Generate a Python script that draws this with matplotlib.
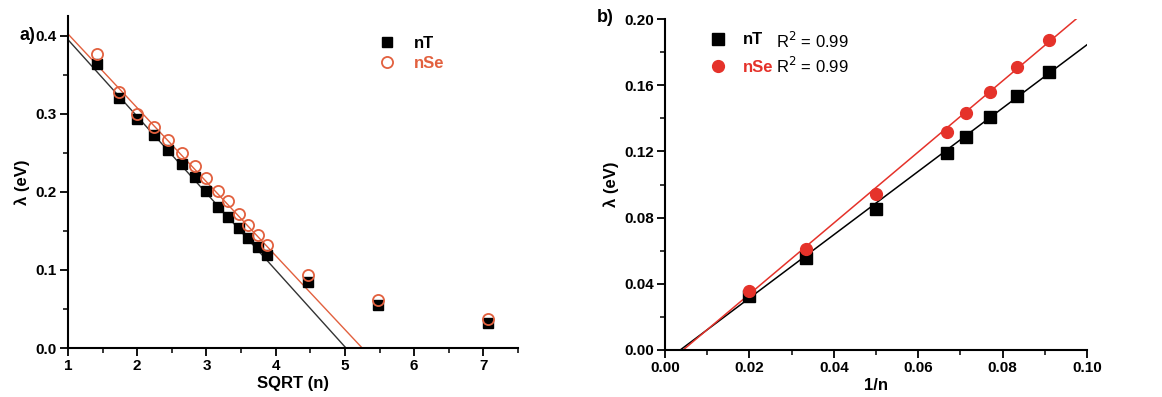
import numpy as np
import matplotlib
matplotlib.use('Agg')
import matplotlib.pyplot as plt
from matplotlib.ticker import MultipleLocator, FormatStrFormatter
from matplotlib.lines import Line2D

plt.rcParams['font.family'] = ['Liberation Sans', 'DejaVu Sans']

# panel a: lambda vs sqrt(n)
sqrt_n = [1.414, 1.732, 2.0, 2.236, 2.449, 2.646, 2.828, 3.0, 3.162, 3.317,
          3.464, 3.606, 3.742, 3.873, 4.472, 5.477, 7.071]
lam_nT_a = [0.364, 0.320, 0.293, 0.273, 0.253, 0.236, 0.219, 0.201, 0.181, 0.168,
            0.153, 0.141, 0.129, 0.119, 0.085, 0.055, 0.032]
lam_nSe_a = [0.376, 0.328, 0.299, 0.283, 0.266, 0.250, 0.233, 0.217, 0.201, 0.188,
             0.171, 0.158, 0.145, 0.132, 0.094, 0.062, 0.037]
# linear fits (slope, intercept)
fit_nT_a = (-0.0983, 0.493)
fit_nSe_a = (-0.0946, 0.4966)

# panel b: lambda vs 1/n
inv_n = [0.02, 0.0333, 0.05, 0.0667, 0.0714, 0.0769, 0.0833, 0.0909]
lam_nT_b = [0.0327, 0.0558, 0.0855, 0.119, 0.129, 0.1407, 0.1532, 0.168]
lam_nSe_b = [0.0359, 0.0613, 0.0942, 0.132, 0.1435, 0.156, 0.171, 0.1875]
fit_nT_b = (1.914, -0.0069)
fit_nSe_b = (2.148, -0.0092)
r2_labels = ['R$^2$ = 0.99', 'R$^2$ = 0.99']

RED = '#e5322a'
ORANGE = '#e2603e'

fig = plt.figure(figsize=(11.62, 3.97), dpi=100)
ax1 = fig.add_axes([0.0585, 0.1234, 0.3873, 0.8363])
ax2 = fig.add_axes([0.5723, 0.1184, 0.3632, 0.8336])


def style_axes(ax):
    for s in ['top', 'right']:
        ax.spines[s].set_visible(False)
    for s in ['left', 'bottom']:
        ax.spines[s].set_linewidth(1.5)
    ax.tick_params(which='major', direction='out', length=6, width=1.3,
                   labelsize=11, pad=2)
    ax.tick_params(which='minor', direction='out', length=3.5, width=1.1)
    for lab in ax.get_xticklabels() + ax.get_yticklabels():
        lab.set_fontweight('bold')


# ---- a)
xs = np.array([1.0, 7.5])
ax1.plot(xs, fit_nT_a[0] * xs + fit_nT_a[1], color='#333333', lw=1.0, zorder=1)
ax1.plot(xs, fit_nSe_a[0] * xs + fit_nSe_a[1], color=ORANGE, lw=1.0, zorder=1)
ax1.plot(sqrt_n, lam_nT_a, 's', color='black', ms=7.5, zorder=2)
ax1.plot(sqrt_n, lam_nSe_a, 'o', mfc='none', mec=ORANGE, mew=1.3, ms=8, zorder=3)
ax1.set_xlim(1, 7.5)
ax1.set_ylim(0, 0.425)
ax1.xaxis.set_major_locator(MultipleLocator(1))
ax1.xaxis.set_minor_locator(MultipleLocator(0.5))
ax1.yaxis.set_major_locator(MultipleLocator(0.1))
ax1.yaxis.set_minor_locator(MultipleLocator(0.05))
ax1.yaxis.set_major_formatter(FormatStrFormatter('%.1f'))
style_axes(ax1)
ax1.set_xlabel('SQRT (n)', fontsize=12, fontweight='bold', labelpad=2)
ax1.set_ylabel('λ (eV)', fontsize=12, fontweight='bold', labelpad=4)
h1 = [Line2D([], [], ls='none', marker='s', color='black', ms=7.5),
      Line2D([], [], ls='none', marker='o', mfc='none', mec=ORANGE, mew=1.3, ms=8)]
leg1 = ax1.legend(h1, ['nT', 'nSe'], loc='upper right', bbox_to_anchor=(0.87, 0.985),
                  frameon=False, prop={'weight': 'bold', 'size': 12},
                  handletextpad=0.6, labelspacing=0.3)
leg1.get_texts()[1].set_color(ORANGE)
fig.text(0.017, 0.899, 'a)', fontsize=13, fontweight='bold')

# ---- b)
xb = np.array([0.0, 0.1])
ax2.plot(xb, fit_nT_b[0] * xb + fit_nT_b[1], color='black', lw=1.1, zorder=1)
ax2.plot(xb, fit_nSe_b[0] * xb + fit_nSe_b[1], color=RED, lw=1.1, zorder=1)
ax2.plot(inv_n, lam_nT_b, 's', color='black', ms=8, zorder=2)
ax2.plot(inv_n, lam_nSe_b, 'o', color=RED, ms=8.5, zorder=3)
ax2.set_xlim(0, 0.1)
ax2.set_ylim(0, 0.2)
ax2.xaxis.set_major_locator(MultipleLocator(0.02))
ax2.xaxis.set_minor_locator(MultipleLocator(0.01))
ax2.yaxis.set_major_locator(MultipleLocator(0.04))
ax2.yaxis.set_minor_locator(MultipleLocator(0.02))
ax2.xaxis.set_major_formatter(FormatStrFormatter('%.2f'))
ax2.yaxis.set_major_formatter(FormatStrFormatter('%.2f'))
style_axes(ax2)
ax2.set_xlabel('1/n', fontsize=12, fontweight='bold', labelpad=2)
ax2.set_ylabel('λ (eV)', fontsize=12, fontweight='bold', labelpad=4)
h2 = [Line2D([], [], ls='none', marker='s', color='black', ms=8),
      Line2D([], [], ls='none', marker='o', color=RED, ms=8.5)]
leg2 = ax2.legend(h2, ['nT', 'nSe'], loc='upper left', bbox_to_anchor=(0.05, 1.005),
                  frameon=False, prop={'weight': 'bold', 'size': 12},
                  handletextpad=0.5, labelspacing=0.75)
leg2.get_texts()[1].set_color(RED)
ax2.text(0.262, 0.935, r2_labels[0], transform=ax2.transAxes, fontsize=12, va='center')
ax2.text(0.262, 0.857, r2_labels[1], transform=ax2.transAxes, fontsize=12, va='center')
fig.text(0.514, 0.945, 'b)', fontsize=13, fontweight='bold')

fig.savefig('out.png', dpi=100)
